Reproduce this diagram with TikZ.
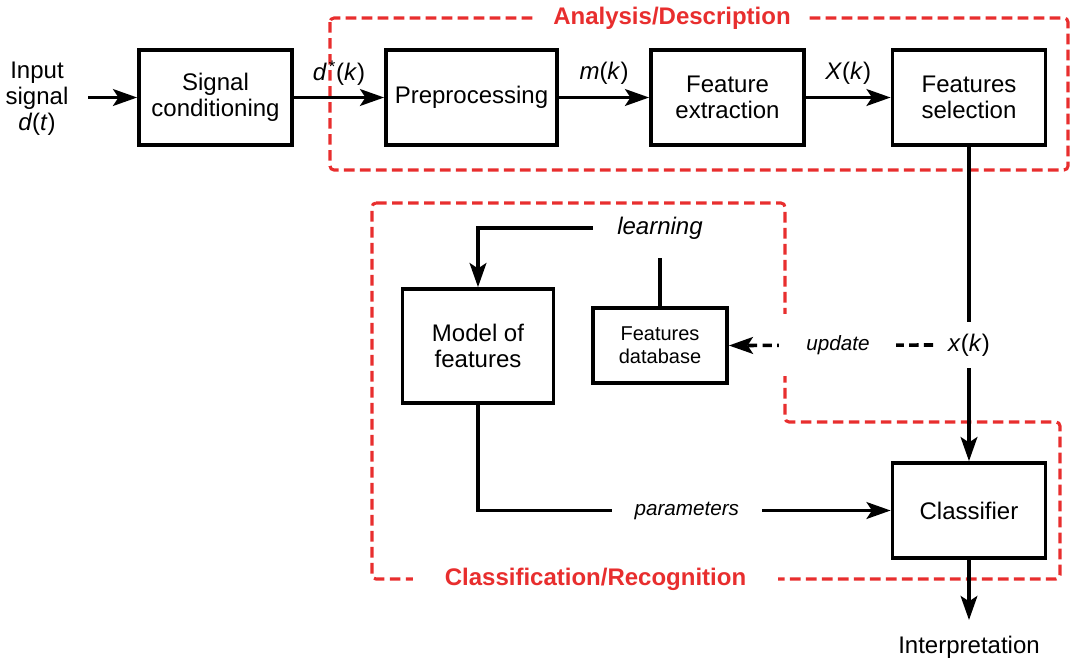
\documentclass[tikz,border=0pt]{standalone}
\usepackage{fontspec}
\setmainfont{Liberation Sans}
\usetikzlibrary{arrows.meta}
\definecolor{redd}{RGB}{232,46,46}
\begin{document}
\begin{tikzpicture}[x=0.75pt,y=-0.75pt,
  every node/.style={font=\fontsize{18}{19.5}\selectfont},
  box/.style={draw, line width=2.8pt, align=center, inner sep=0pt},
  conn/.style={line width=2.7pt},
  arr/.style={conn, -{Stealth[length=18pt,width=12.5pt,inset=4pt]}},
  dasharr/.style={arr, dash pattern=on 7pt off 4pt},
  reddash/.style={draw=redd, line width=2.3pt, dash pattern=on 8pt off 4pt, rounded corners=3pt},
  redtitle/.style={fill=white, text=redd, font=\fontsize{18}{19.5}\selectfont\bfseries, inner sep=0pt, minimum height=20pt},
  plabel/.style={fill=white, inner sep=0pt, font=\fontsize{15.5}{17}\selectfont\itshape}
]
\useasboundingbox (0,0) rectangle (1075,662);

% red regions
\draw[reddash] (330,18) rectangle (1068,170);
\draw[reddash] (372,203) -- (785,203) -- (785,422) -- (1060,422) -- (1060,579) -- (372,579) -- cycle;
\node[redtitle, minimum width=202.5pt] (tA) at (672,18) {Analysis/Description};
\node[redtitle, minimum width=273.75pt] (tC) at (595.5,579) {Classification/Recognition};

% nodes
\node[align=center, inner sep=0pt] (input) at (37,98.5) {Input\\signal\\\textit{d}(\textit{t})};
\coordinate (inA) at (88,97.5);
\node[box, minimum width=114.75pt, minimum height=71.25pt] (sc) at (215.5,97.5) {Signal\\conditioning};
\node[box, minimum width=128.25pt, minimum height=71.25pt] (pp) at (471.5,97.5) {Preprocessing};
\node[box, minimum width=114.75pt, minimum height=71.25pt] (fe) at (727.5,97.5) {Feature\\extraction};
\node[box, minimum width=114.75pt, minimum height=71.25pt] (fs) at (969,97.5) {Features\\selection};
\node[box, minimum width=113.25pt, minimum height=85.5pt] (mof) at (478,346) {Model of\\features};
\node[box, minimum width=100.5pt, minimum height=56.25pt, font=\fontsize{15}{17.5}\selectfont] (fd) at (660,345.5) {Features\\database};
\node[box, minimum width=114.75pt, minimum height=71.25pt] (cl) at (969,510.5) {Classifier};
\node[inner xsep=11pt, inner ysep=0pt, minimum height=34.5pt] (xk) at (969,345) {\textit{x}(\textit{k})};
\node[inner sep=0pt, minimum width=100.5pt, minimum height=45pt, font=\fontsize{18}{19.5}\selectfont\itshape] (learn) at (660,228) {learning};
\node (interp) at (969,647) {Interpretation};
\coordinate (outA) at (969,620);

% connectors
\draw[arr] (inA) -- (sc.west);
\draw[arr] (sc.east) -- (pp.west) node[midway, yshift=18pt] {\textit{d}\kern1.5pt\textsuperscript{*}(\textit{k})};
\draw[arr] (pp.east) -- (fe.west) node[midway, yshift=18pt] {\textit{m}(\textit{k})};
\draw[arr] (fe.east) -- (fs.west) node[midway, yshift=18pt] {\textit{X}(\textit{k})};
\draw[conn] (fs.south) -- (xk.north);
\draw[arr] (xk.south) -- (cl.north);
\draw[dasharr] (xk.west) -- (fd.east) node[pos=0.466, plabel, minimum width=87.75pt, minimum height=46.5pt] {update};
\draw[conn] (fd.north) -- (learn.south);
\draw[arr] (learn.west) -| (mof.north);
\draw[arr] (mof.south) |- (cl.west) node[pos=0.753, plabel, minimum width=112.5pt, minimum height=20pt] {parameters};
\draw[arr] (cl.south) -- (outA);
\end{tikzpicture}
\end{document}
